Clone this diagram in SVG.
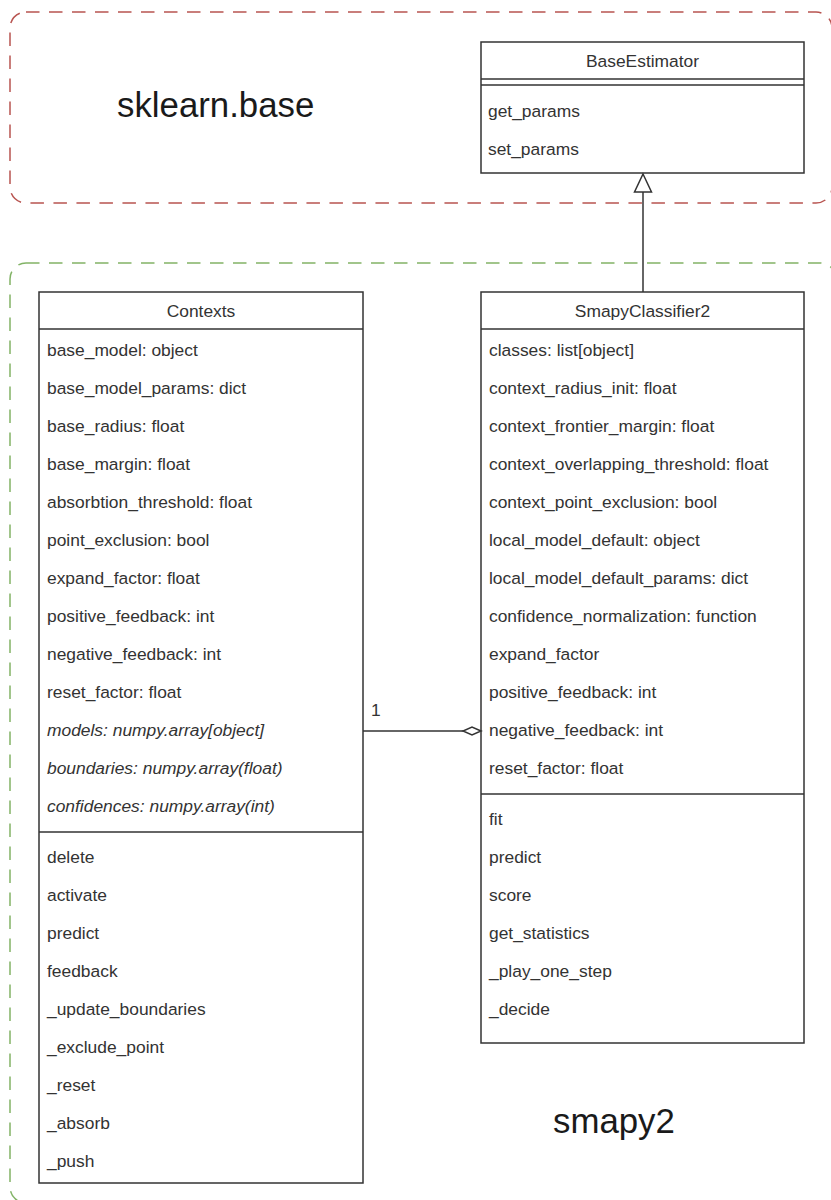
<svg xmlns="http://www.w3.org/2000/svg" width="831" height="1200" viewBox="0 0 831 1200">
  <style>
    .pkg { fill: none; stroke-width: 1.5; stroke-dasharray: 13.5 9.5; }
    .pkg-red { stroke: #b85450; }
    .pkg-green { stroke: #82b366; }
    .box { fill: #ffffff; stroke: #333333; stroke-width: 1.5; }
    .sep { stroke: #333333; stroke-width: 1.5; }
    .t { font-family: "Liberation Sans", Arial, sans-serif; font-size: 17.4px; fill: #333333; }
    .title { text-anchor: middle; }
    .it { font-style: italic; }
    .pkgname { font-family: "Liberation Sans", Arial, sans-serif; font-size: 34.8px; fill: #1a1a1a; }
    .conn { fill: none; stroke: #333333; stroke-width: 1.5; }
  </style>

  <!-- packages -->
  <g id="pkg-sklearn-base">
    <rect class="pkg pkg-red" x="10" y="12" width="822" height="191" rx="16" ry="16"/>
    <text class="pkgname" x="117" y="117">sklearn.base</text>
  </g>
  <g id="pkg-smapy2">
    <rect class="pkg pkg-green" x="10" y="263" width="826" height="940" rx="16" ry="16"/>
    <text class="pkgname" x="553" y="1133">smapy2</text>
  </g>

  <!-- BaseEstimator -->
  <g id="BaseEstimator">
    <rect class="box" x="481" y="42" width="323" height="131"/>
    <line class="sep" x1="481" y1="79" x2="804" y2="79"/>
    <line class="sep" x1="481" y1="85" x2="804" y2="85"/>
    <text class="t title" x="642.5" y="67">BaseEstimator</text>
    <text class="t" x="488" y="117">get_params</text>
    <text class="t" x="488" y="155">set_params</text>
  </g>

  <!-- Contexts -->
  <g id="Contexts">
    <rect class="box" x="39" y="292" width="324" height="891"/>
    <line class="sep" x1="39" y1="329" x2="363" y2="329"/>
    <line class="sep" x1="39" y1="832" x2="363" y2="832"/>
    <text class="t title" x="201" y="317">Contexts</text>
    <text class="t" x="47" y="356">base_model: object</text>
    <text class="t" x="47" y="394">base_model_params: dict</text>
    <text class="t" x="47" y="432">base_radius: float</text>
    <text class="t" x="47" y="470">base_margin: float</text>
    <text class="t" x="47" y="508">absorbtion_threshold: float</text>
    <text class="t" x="47" y="546">point_exclusion: bool</text>
    <text class="t" x="47" y="584">expand_factor: float</text>
    <text class="t" x="47" y="622">positive_feedback: int</text>
    <text class="t" x="47" y="660">negative_feedback: int</text>
    <text class="t" x="47" y="698">reset_factor: float</text>
    <text class="t it" x="47" y="736">models: numpy.array[object]</text>
    <text class="t it" x="47" y="774">boundaries: numpy.array(float)</text>
    <text class="t it" x="47" y="812">confidences: numpy.array(int)</text>
    <text class="t" x="47" y="863">delete</text>
    <text class="t" x="47" y="901">activate</text>
    <text class="t" x="47" y="939">predict</text>
    <text class="t" x="47" y="977">feedback</text>
    <text class="t" x="47" y="1015">_update_boundaries</text>
    <text class="t" x="47" y="1053">_exclude_point</text>
    <text class="t" x="47" y="1091">_reset</text>
    <text class="t" x="47" y="1129">_absorb</text>
    <text class="t" x="47" y="1167">_push</text>
  </g>

  <!-- SmapyClassifier2 -->
  <g id="SmapyClassifier2">
    <rect class="box" x="481" y="292" width="323" height="751"/>
    <line class="sep" x1="481" y1="329" x2="804" y2="329"/>
    <line class="sep" x1="481" y1="794" x2="804" y2="794"/>
    <text class="t title" x="642.5" y="317">SmapyClassifier2</text>
    <text class="t" x="489" y="356">classes: list[object]</text>
    <text class="t" x="489" y="394">context_radius_init: float</text>
    <text class="t" x="489" y="432">context_frontier_margin: float</text>
    <text class="t" x="489" y="470">context_overlapping_threshold: float</text>
    <text class="t" x="489" y="508">context_point_exclusion: bool</text>
    <text class="t" x="489" y="546">local_model_default: object</text>
    <text class="t" x="489" y="584">local_model_default_params: dict</text>
    <text class="t" x="489" y="622">confidence_normalization: function</text>
    <text class="t" x="489" y="660">expand_factor</text>
    <text class="t" x="489" y="698">positive_feedback: int</text>
    <text class="t" x="489" y="736">negative_feedback: int</text>
    <text class="t" x="489" y="774">reset_factor: float</text>
    <text class="t" x="489" y="825">fit</text>
    <text class="t" x="489" y="863">predict</text>
    <text class="t" x="489" y="901">score</text>
    <text class="t" x="489" y="939">get_statistics</text>
    <text class="t" x="489" y="977">_play_one_step</text>
    <text class="t" x="489" y="1015">_decide</text>
  </g>

  <!-- connectors -->
  <g id="connectors">
    <!-- generalization: SmapyClassifier2 -> BaseEstimator -->
    <line class="conn" x1="643" y1="292" x2="643" y2="192"/>
    <polygon points="643,174 651.5,192 634.5,192" fill="#ffffff" stroke="#333333" stroke-width="1.5"/>
    <!-- aggregation: Contexts -> SmapyClassifier2 -->
    <line class="conn" x1="363" y1="731" x2="463" y2="731"/>
    <polygon points="481,731 472,727 463,731 472,735" fill="#ffffff" stroke="#333333" stroke-width="1.5"/>
    <text class="t" x="371" y="716">1</text>
  </g>
</svg>
